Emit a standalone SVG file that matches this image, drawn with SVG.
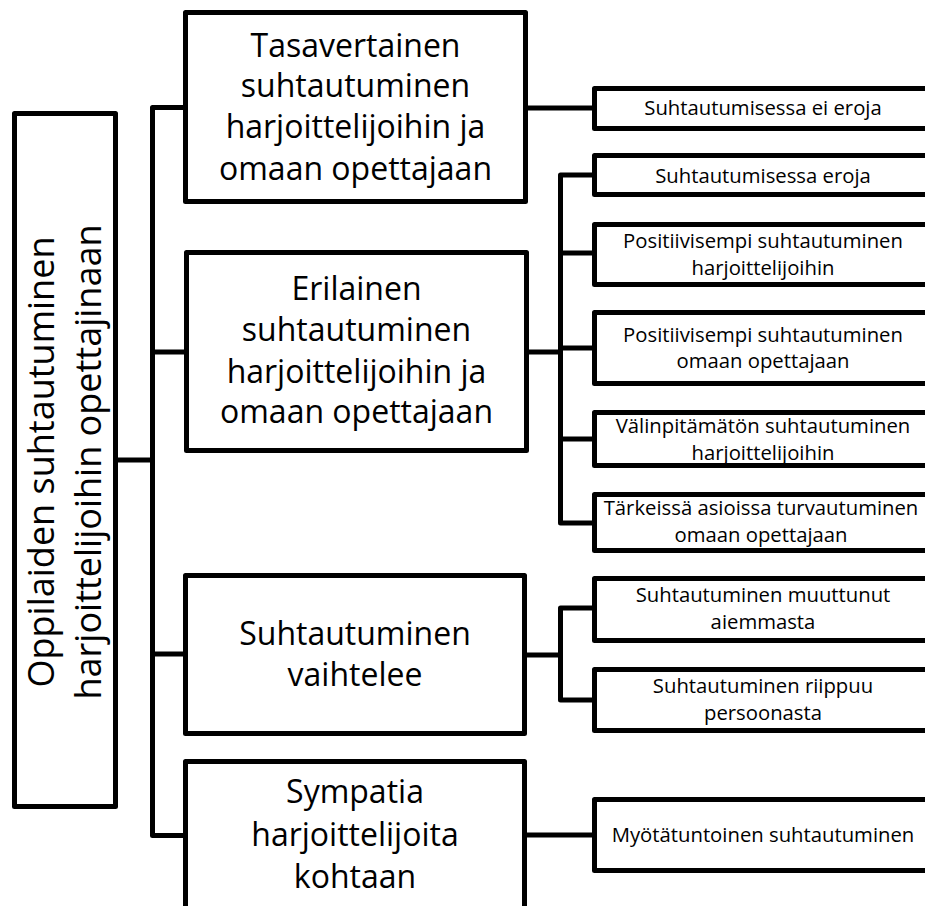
<svg xmlns="http://www.w3.org/2000/svg" width="925" height="906" viewBox="0 0 925 906">
<style>
.box{fill:#fff;stroke:#000;stroke-width:5;stroke-linejoin:round}
.con{fill:none;stroke:#000;stroke-width:5;stroke-linejoin:round}
text{font-family:"Open Sans","Liberation Sans",sans-serif;fill:#000;text-anchor:middle}
.root{font-size:36px}
.t1{font-size:32px}
.t2{font-size:20.3px}
</style>
<rect width="925" height="906" fill="#fff"/>
<g id="connectors">
<path class="con" d="M118 460H152.5M183 107.5H152.5V835.5H183M152.5 352H184M152.5 654H183"/>
<path class="con" d="M527 108H592"/>
<path class="con" d="M529 352H560.5M592 175H560.5V523H592M560.5 253H592M560.5 348H592M560.5 439H592"/>
<path class="con" d="M527 655H560.5M592 608H560.5V700H592"/>
<path class="con" d="M527 835H592"/>
</g>
<g id="root">
<rect class="box" x="14.5" y="113.5" width="101" height="693"/>
<text class="root" transform="translate(54,462) rotate(-90)">Oppilaiden suhtautuminen</text>
<text class="root" transform="translate(101,462) rotate(-90)">harjoittelijoihin opettajinaan</text>
</g>
<g id="n1">
<rect class="box" x="185.5" y="12.5" width="340" height="189"/>
<text class="t1" x="355.5" y="57">Tasavertainen</text>
<text class="t1" x="355.5" y="97">suhtautuminen</text>
<text class="t1" x="355.5" y="138">harjoittelijoihin ja</text>
<text class="t1" x="355.5" y="180">omaan opettajaan</text>
</g>
<g id="n2">
<rect class="box" x="186.5" y="252.5" width="340" height="198"/>
<text class="t1" x="356.5" y="300">Erilainen</text>
<text class="t1" x="356.5" y="341">suhtautuminen</text>
<text class="t1" x="356.5" y="383">harjoittelijoihin ja</text>
<text class="t1" x="356.5" y="423">omaan opettajaan</text>
</g>
<g id="n3">
<rect class="box" x="185.5" y="575.5" width="339" height="158"/>
<text class="t1" x="355" y="645">Suhtautuminen</text>
<text class="t1" x="355" y="686">vaihtelee</text>
</g>
<g id="n4">
<rect class="box" x="185.5" y="761.5" width="339" height="200"/>
<text class="t1" x="355" y="803">Sympatia</text>
<text class="t1" x="355" y="846">harjoittelijoita</text>
<text class="t1" x="355" y="888">kohtaan</text>
</g>
<g id="a1">
<rect class="box" x="594.5" y="88.5" width="340" height="40"/>
<text class="t2" x="763" y="115">Suhtautumisessa ei eroja</text>
</g>
<g id="b1">
<rect class="box" x="594.5" y="155.5" width="340" height="39"/>
<text class="t2" x="763" y="183">Suhtautumisessa eroja</text>
</g>
<g id="b2">
<rect class="box" x="594.5" y="224.5" width="340" height="60"/>
<text class="t2" x="763" y="248">Positiivisempi suhtautuminen</text>
<text class="t2" x="763" y="275">harjoittelijoihin</text>
</g>
<g id="b3">
<rect class="box" x="594.5" y="312.5" width="340" height="71"/>
<text class="t2" x="763" y="342">Positiivisempi suhtautuminen</text>
<text class="t2" x="763" y="368">omaan opettajaan</text>
</g>
<g id="b4">
<rect class="box" x="594.5" y="412.5" width="340" height="53"/>
<text class="t2" x="763" y="433">Välinpitämätön suhtautuminen</text>
<text class="t2" x="763" y="460">harjoittelijoihin</text>
</g>
<g id="b5">
<rect class="box" x="594.5" y="494.5" width="340" height="56"/>
<text class="t2" x="761" y="515">Tärkeissä asioissa turvautuminen</text>
<text class="t2" x="761" y="542">omaan opettajaan</text>
</g>
<g id="c1">
<rect class="box" x="594.5" y="578.5" width="340" height="62"/>
<text class="t2" x="763" y="602">Suhtautuminen muuttunut</text>
<text class="t2" x="763" y="629">aiemmasta</text>
</g>
<g id="c2">
<rect class="box" x="594.5" y="669.5" width="340" height="61"/>
<text class="t2" x="763" y="693">Suhtautuminen riippuu</text>
<text class="t2" x="763" y="720">persoonasta</text>
</g>
<g id="d1">
<rect class="box" x="594.5" y="799.5" width="340" height="71"/>
<text class="t2" x="763" y="842">Myötätuntoinen suhtautuminen</text>
</g>
</svg>
